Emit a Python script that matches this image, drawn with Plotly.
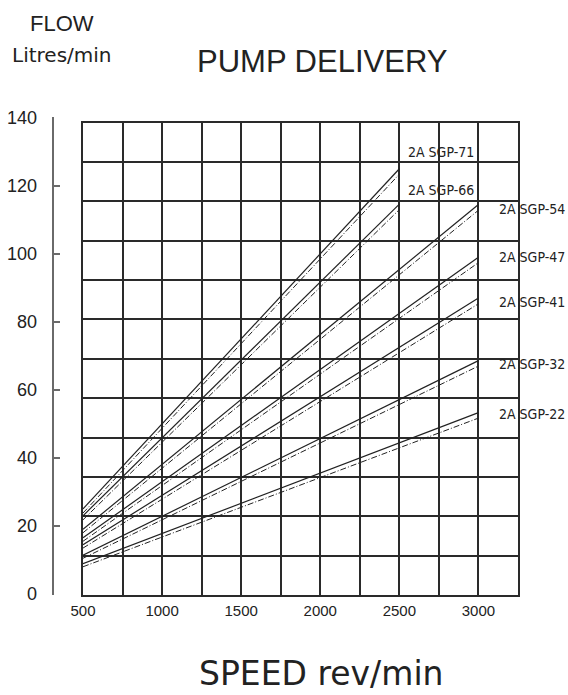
import plotly.graph_objects as go

# ---- data ----
models = ["2A SGP-71", "2A SGP-66", "2A SGP-54", "2A SGP-47", "2A SGP-41", "2A SGP-32", "2A SGP-22"]
start_speed = [500, 500, 500, 500, 500, 500, 500]
end_speed = [2500, 2500, 3000, 3000, 3000, 3000, 3000]
solid_start = [25.0, 23.0, 19.0, 16.5, 14.5, 11.4, 8.9]
solid_end = [125.0, 114.6, 114.5, 99.0, 87.0, 68.6, 53.3]
dash_start = [23.8, 21.8, 18.0, 15.5, 13.5, 10.5, 8.0]
dash_end = [123.4, 113.0, 112.8, 97.4, 85.3, 67.0, 51.7]
label_speed = [2540, 2540, 3120, 3120, 3120, 3120, 3120]
label_flow = [129.9, 118.7, 113.1, 99.1, 85.9, 67.6, 52.9]

x_ticks = [500, 1000, 1500, 2000, 2500, 3000]
y_ticks = [0, 20, 40, 60, 80, 100, 120, 140]

W, H = 568, 695
TOP, BOT = 117, 100          # plot area 117..595 px
PA_H = H - TOP - BOT
grid_left, grid_right, grid_top = 83, 518, 122.7
ppu = (594 - 117.7) / 140.0
y0 = -(595 - 594) / ppu
y1 = y0 + PA_H / ppu

ink = "#222222"
gridc = "#2a2a2a"
fig = go.Figure()

# empty trace so the grid subplot (x, y) is created
fig.add_trace(go.Scatter(x=[], y=[], xaxis="x", yaxis="y", showlegend=False, hoverinfo="skip"))

for i, m in enumerate(models):
    fig.add_trace(go.Scatter(
        x=[start_speed[i], end_speed[i]], y=[solid_start[i], solid_end[i]],
        mode="lines", line=dict(color=ink, width=1.2),
        xaxis="x2", yaxis="y2", showlegend=False, hoverinfo="skip"))
    fig.add_trace(go.Scatter(
        x=[start_speed[i], end_speed[i]], y=[dash_start[i], dash_end[i]],
        mode="lines", line=dict(color=ink, width=1.0, dash="6px,2px,1px,2px"),
        xaxis="x2", yaxis="y2", showlegend=False, hoverinfo="skip"))

xdom = [grid_left / W, grid_right / W]
grid_dom_top = (595 - grid_top) / PA_H

fig.update_layout(
    width=W, height=H, autosize=False,
    margin=dict(l=0, r=0, t=TOP, b=BOT, pad=0, autoexpand=False),
    paper_bgcolor="white", plot_bgcolor="rgba(0,0,0,0)",
    showlegend=False,
    # grid axes
    xaxis=dict(domain=xdom, range=[500, 3250], dtick=250, tick0=500,
               showgrid=True, gridcolor=gridc, gridwidth=1.6,
               showticklabels=False, ticks="", zeroline=False, automargin=False,
               showline=True, mirror=True, linecolor=gridc, linewidth=1.6,
               anchor="y", fixedrange=True),
    yaxis=dict(domain=[0, grid_dom_top], range=[0, 12], dtick=1, tick0=0,
               showgrid=True, gridcolor=gridc, gridwidth=1.6,
               showticklabels=False, ticks="", zeroline=False, automargin=False,
               showline=True, mirror=True, linecolor=gridc, linewidth=1.6,
               anchor="x", fixedrange=True),
    # data axes
    xaxis2=dict(domain=xdom, range=[500, 3250], tickvals=x_ticks,
                showgrid=False, zeroline=False, showline=False, ticks="",
                automargin=False,
                tickfont=dict(family="Liberation Sans, Arial, sans-serif", size=15, color=ink),
                ticklabelstandoff=5, anchor="y2"),
    yaxis2=dict(domain=[0, 1], range=[y0, y1], tickvals=y_ticks,
                anchor="free", position=52.7 / W, side="left",
                showgrid=False, zeroline=False, automargin=False,
                showline=True, linecolor="#6a6a6a", linewidth=2,
                ticks="inside", ticklen=6, tickwidth=1.5, tickcolor="#6a6a6a",
                tickfont=dict(family="Liberation Sans, Arial, sans-serif", size=18, color=ink),
                ticklabelstandoff=11),
)

ann = []
for i, m in enumerate(models):
    ann.append(dict(x=label_speed[i], y=label_flow[i], xref="x2", yref="y2",
                    text=m, showarrow=False, xanchor="left", yanchor="middle",
                    font=dict(family="Liberation Sans Narrow, DejaVu Sans Condensed, Arial Narrow, sans-serif",
                              size=14, color=ink)))

def py(p):
    return (595 - p) / PA_H

ann += [
    dict(x=62 / W, y=py(23.5), xref="paper", yref="paper", text="FLOW", showarrow=False,
         xanchor="center", yanchor="middle",
         font=dict(family="Liberation Sans, Arial, sans-serif", size=22, color=ink)),
    dict(x=62 / W, y=py(55), xref="paper", yref="paper", text="Litres/min", showarrow=False,
         xanchor="center", yanchor="middle",
         font=dict(family="DejaVu Sans, sans-serif", size=20, color=ink)),
    dict(x=322 / W, y=py(62), xref="paper", yref="paper", text="PUMP DELIVERY", showarrow=False,
         xanchor="center", yanchor="middle",
         font=dict(family="Liberation Sans, Arial, sans-serif", size=31, color=ink)),
    dict(x=321 / W, y=py(673), xref="paper", yref="paper", text="SPEED rev/min", showarrow=False,
         xanchor="center", yanchor="middle",
         font=dict(family="DejaVu Sans, sans-serif", size=33, color=ink)),
]
fig.update_layout(annotations=ann)

fig.write_html(
    "out.html",
    config={"responsive": False, "displayModeBar": False},
    post_script="document.body.style.margin='0';document.body.style.padding='0';"
                "document.body.style.overflow='hidden';",
)
